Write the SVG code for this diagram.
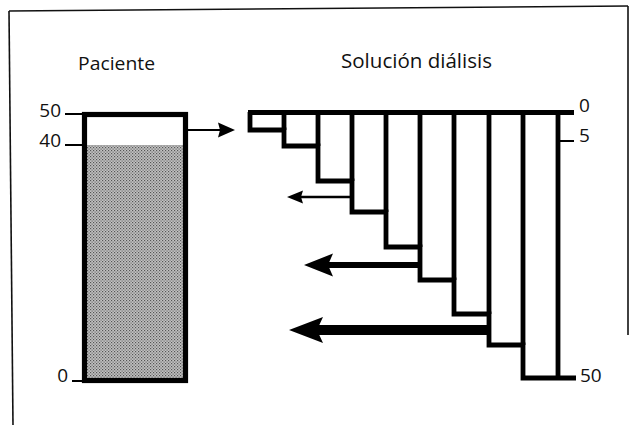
<svg xmlns="http://www.w3.org/2000/svg" width="629" height="425" viewBox="0 0 629 425">
  <style>
    .lbl { font-family: "Open Sans", "DejaVu Sans", sans-serif; fill: #111; }
    .num { font-family: "Open Sans", "DejaVu Sans", sans-serif; font-size: 19px; fill: #111; }
    .frame { stroke: #111; stroke-width: 1.6; fill: none; }
    .thick { stroke: #000; stroke-width: 4.8; fill: none; stroke-linejoin: miter; stroke-linecap: butt; }
    .tick { stroke: #000; stroke-width: 2; fill: none; }
    .shaft { stroke: #000; fill: none; }
    .head { fill: #000; stroke: none; }
  </style>
  <defs>
    <pattern id="dots" width="3" height="3" patternUnits="userSpaceOnUse">
      <rect width="3" height="3" fill="#c2c2c2"/>
      <rect x="0" y="0" width="1.2" height="1.2" fill="#555"/>
      <rect x="1.5" y="1.5" width="1.2" height="1.2" fill="#666"/>
    </pattern>
  </defs>
  <rect width="629" height="425" fill="#fff"/>

  <!-- frame -->
  <g id="frame">
    <path class="frame" d="M9,11 L628,6"/>
    <path class="frame" d="M9,11 L13,425"/>
    <path class="frame" d="M628,6 L628,335"/>
  </g>

  <!-- patient -->
  <g id="patient">
    <text class="lbl" x="78" y="70" font-size="19" textLength="77" lengthAdjust="spacingAndGlyphs">Paciente</text>
    <rect x="87" y="145" width="96.5" height="234" fill="url(#dots)"/>
    <rect x="84.5" y="114.5" width="101" height="266" fill="none" stroke="#000" stroke-width="5.2"/>
    <line class="tick" x1="65" y1="114" x2="84" y2="114"/>
    <line class="tick" x1="65" y1="145" x2="85" y2="145"/>
    <line class="tick" x1="72" y1="381" x2="85" y2="381"/>
    <text class="num" x="61" y="117" text-anchor="end">50</text>
    <text class="num" x="61" y="147" text-anchor="end">40</text>
    <text class="num" x="68" y="382" text-anchor="end">0</text>
  </g>

  <!-- dialysis solution -->
  <g id="solution">
    <text class="lbl" x="341" y="68" font-size="19.5" textLength="151" lengthAdjust="spacingAndGlyphs">Solución diálisis</text>
    <path class="thick" d="M248,112.5 H574"/>
    <path class="thick" d="M250,112 V130 H284 V146 H318 V181 H352 V212 H386 V247 H420 V280 H454 V314 H489 V345 H523 V378 H576"/>
    <path class="thick" d="M284,112 V130 M318,112 V146 M352,112 V181 M386,112 V212 M420,112 V247 M454,112 V280 M489,112 V314 M523,112 V345 M558,112 V378"/>
    <line class="tick" x1="558" y1="141" x2="574" y2="141" stroke-width="2.5"/>
    <text class="num" x="579" y="112">0</text>
    <text class="num" x="579" y="142">5</text>
    <text class="num" x="580" y="382">50</text>
  </g>

  <!-- connectors -->
  <g id="connectors">
    <line class="shaft" x1="187" y1="130" x2="221" y2="130" stroke-width="2"/>
    <polygon class="head" points="235,130 218,122.5 220,130 218,137.5"/>

    <line class="shaft" x1="352" y1="197" x2="300" y2="197" stroke-width="2.5"/>
    <polygon class="head" points="287,197 303,190.5 301,197 303,203.5"/>

    <line class="shaft" x1="420" y1="265" x2="325" y2="265" stroke-width="6"/>
    <polygon class="head" points="304,265 333,253.5 328,265 333,276.5"/>

    <line class="shaft" x1="489" y1="330" x2="315" y2="330" stroke-width="10"/>
    <polygon class="head" points="289,330 323,317 317,330 323,343"/>
  </g>
</svg>
